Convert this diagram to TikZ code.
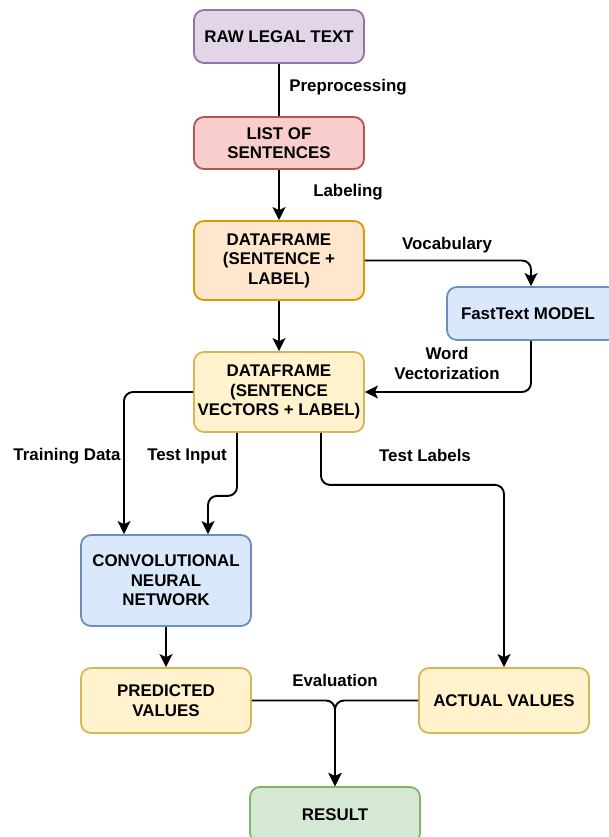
\documentclass[tikz,border=0pt]{standalone}
\usepackage{fontspec}
\setmainfont{Liberation Sans}
\usepackage{tikz}
\usetikzlibrary{arrows.meta,positioning}
\definecolor{mypurple}{HTML}{E1D5E7}
\definecolor{mypurpleline}{HTML}{9673A6}
\definecolor{myred}{HTML}{F8CECC}
\definecolor{myredline}{HTML}{B85450}
\definecolor{myorange}{HTML}{FFE6CC}
\definecolor{myorangeline}{HTML}{D79B00}
\definecolor{myyellow}{HTML}{FFF2CC}
\definecolor{myyellowline}{HTML}{D6B656}
\definecolor{myblue}{HTML}{DAE8FC}
\definecolor{myblueline}{HTML}{6C8EBF}
\definecolor{mygreen}{HTML}{D5E8D4}
\definecolor{mygreenline}{HTML}{82B366}

\begin{document}
\begin{tikzpicture}[x=1pt,y=-1pt,
    font=\fontsize{16.9}{19.5}\selectfont\bfseries,
    box/.style={draw,rounded corners=10pt,line width=1.8pt,align=center,
      minimum width=170pt,inner sep=0pt},
    rawnode/.style={box,fill=mypurple,draw=mypurpleline},
    listnode/.style={box,fill=myred,draw=myredline},
    dfnode/.style={box,fill=myorange,draw=myorangeline},
    vecnode/.style={box,fill=myyellow,draw=myyellowline},
    modelnode/.style={box,fill=myblue,draw=myblueline},
    resnode/.style={box,fill=mygreen,draw=mygreenline},
    lbl/.style={align=center,inner sep=0pt},
    edge/.style={line width=1.9pt,rounded corners=9pt,-{Stealth[length=13pt,width=13pt,inset=3pt]}}
  ]
  \useasboundingbox (0,0) rectangle (609,837);

  % the boxes
  \node[rawnode,minimum height=53pt] (raw) at (279,36.5) {RAW LEGAL TEXT};
  \node[listnode,minimum height=52pt] (list) at (279,143) {LIST OF\\SENTENCES};
  \node[dfnode,minimum height=79pt] (df) at (279,260.5) {DATAFRAME\\(SENTENCE +\\LABEL)};
  \node[modelnode,minimum height=53pt] (ft) at (532,313.5) {\hspace*{-8pt}FastText MODEL};
  \node[vecnode,minimum height=80pt] (vec) at (279,392) {DATAFRAME\\(SENTENCE\\VECTORS + LABEL)};
  \node[modelnode,minimum height=91pt] (cnn) at (166,580.5) {CONVOLUTIONAL\\NEURAL\\NETWORK};
  \node[vecnode,minimum height=65pt] (pred) at (166,700.5) {PREDICTED\\VALUES};
  \node[vecnode,minimum height=65pt] (actual) at (504,700.5) {ACTUAL VALUES};
  \node[resnode,minimum height=56pt] (res) at (335,815) {RESULT};

  % the edges
  \draw[edge,-] (raw) -- (list);
  \draw[edge] (list) -- (df);
  \draw[edge] (df.east) -| ([xshift=-1pt]ft.north);
  \draw[edge] (df) -- (vec);
  \draw[edge] ([xshift=-1pt]ft.south) |- (vec.east);
  \draw[edge] (vec.west) -| ([xshift=-42pt]cnn.north);
  \draw[edge] ([xshift=-42pt]vec.south) -- ++(0,63) -| ([xshift=42pt]cnn.north);
  \draw[edge] ([xshift=42pt]vec.south) -- ++(0,52) -| (actual.north);
  \draw[edge] (cnn) -- (pred);
  \draw[edge] (pred.east) -| (res.north);
  \draw[edge] (actual.west) -| (res.north);

  % the edge labels
  \node[lbl] (lprep) at (348,87) {Preprocessing};
  \node[lbl] (llab) at (348,192) {Labeling};
  \node[lbl] (lvoc) at (447,245) {Vocabulary};
  \node[lbl] (lword) at (447,363.5) {Word\\Vectorization};
  \node[lbl] (ltrain) at (67,456) {Training Data};
  \node[lbl] (ltest) at (187,456) {Test Input};
  \node[lbl] (ltlab) at (425,455) {Test Labels};
  \node[lbl] (leval) at (335,680) {Evaluation};
\end{tikzpicture}
\end{document}
